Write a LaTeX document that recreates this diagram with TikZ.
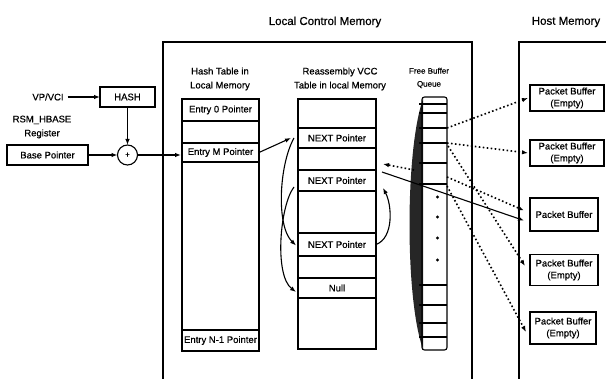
\documentclass[tikz,border=0pt]{standalone}
\usepackage{fontspec}
\setmainfont{Liberation Sans}[FakeBold=0.6]
\usetikzlibrary{arrows.meta,calc}
\begin{document}
\begin{tikzpicture}[x=1pt,y=-1pt,
  every node/.style={inner sep=0pt,outer sep=0pt},
  lbl/.style={font=\fontsize{9.5}{14}\selectfont},
  ttl/.style={font=\fontsize{11.5}{14}\selectfont},
  cell/.style={draw,line width=1.1pt,lbl},
  arr/.style={line width=1.1pt,-{Latex[length=6pt,width=4.5pt]}},
  darr/.style={line width=1.6pt,dash pattern=on 1.6pt off 2.4pt,-{Latex[length=6pt,width=4.5pt]}},
  wall/.style={line width=1.1pt}]
\useasboundingbox (0,0) rectangle (606,379);
% titles
\node[ttl] (tlcm) at (325,22) {Local Control Memory};
\node[ttl] (thm) at (566,22) {Host Memory};
% memory walls
\draw[wall] (163,379) -- (163,42) -- (472,42) -- (472,379);
\draw[wall] (519,379) -- (519,42) -- (606,42);
% headers
\node[lbl,align=center] (hhash) at (220,79) {Hash Table in\\Local Memory};
\node[lbl,align=center] (hreas) at (340,79) {Reassembly VCC\\Table in local Memory};
\node[font=\fontsize{8}{13}\selectfont,align=center] (hfree) at (429,78) {Free Buffer\\Queue};
% left inputs
\node[lbl] (vp) at (48,97) {VP/VCI};
\node[cell,minimum width=55pt,minimum height=20pt] (hash) at (127.5,97) {HASH};
\node[lbl,align=center] (rsm) at (42,127) {RSM\_HBASE\\Register};
\node[cell,minimum width=81pt,minimum height=20pt] (base) at (47.5,155) {Base Pointer};
\node[draw,circle,line width=1.1pt,minimum size=20pt,font=\fontsize{8}{8}\selectfont] (plus) at (127.5,155) {+};
\draw[arr] (vp.east) ++(4pt,0) -- (hash.west);
\draw[arr] (hash.south) -- (plus.north);
\draw[arr] (base.east) -- (plus.west);
% hash table
\node[cell,minimum width=77pt,minimum height=22pt] (h0) at (220.5,110) {Entry 0 Pointer};
\node[cell,minimum width=77pt,minimum height=22pt] (h1) at (220.5,132) {};
\node[cell,minimum width=77pt,minimum height=19pt] (hM) at (220.5,152.5) {Entry M Pointer};
\node[cell,minimum width=77pt,minimum height=168pt] (hg) at (220.5,246) {};
\node[cell,minimum width=77pt,minimum height=21pt] (hN) at (220.5,340.5) {Entry N-1 Pointer};
\draw[arr] (plus.east) -- ([xshift=-1pt]hM.west |- plus);
% reassembly table
\node[cell,minimum width=78pt,minimum height=29pt] (r0) at (337,113.5) {};
\node[cell,minimum width=78pt,minimum height=20pt] (n1) at (337,138) {NEXT Pointer};
\node[cell,minimum width=78pt,minimum height=22pt] (r2) at (337,159) {};
\node[cell,minimum width=78pt,minimum height=21pt] (n2) at (337,180.5) {NEXT Pointer};
\node[cell,minimum width=78pt,minimum height=42pt] (r4) at (337,212) {};
\node[cell,minimum width=78pt,minimum height=23pt] (n3) at (337,244.5) {NEXT Pointer};
\node[cell,minimum width=78pt,minimum height=22pt] (r6) at (337,267) {};
\node[cell,minimum width=78pt,minimum height=20pt] (nul) at (337,288) {Null};
\node[cell,minimum width=78pt,minimum height=51pt] (r8) at (337,323.5) {};
% pointer links
\draw[arr] (hM.east) -- ([xshift=-7pt]n1.west);
\draw[arr] ([xshift=-4pt]n1.west) .. controls (279,165) and (276,226) .. ([xshift=-2pt,yshift=-1pt]n3.west);
\draw[arr] ([xshift=-4pt,yshift=4pt]n2.south west) .. controls (280,205) and (274,275) .. ([xshift=-2pt,yshift=-4pt]nul.west);
\draw[arr] (n3.east) .. controls (394,238) and (392,205) .. ([xshift=7pt,yshift=3pt]n2.south east);
% free buffer queue
\fill[black!85] (423,99) .. controls (405,150) and (405,300) .. (423,349) -- cycle;
\node[draw,line width=1.1pt,rounded corners=2.5pt,minimum width=25pt,minimum height=253pt] (fbq) at (434.5,223.5) {};
\foreach \yy in {104,113,128,143,163,184,285,305,323,337}
  \draw[line width=1.1pt] (419,\yy) -- (447,\yy);
\foreach \yy in {197,217,238,260}
  \fill (437.5,\yy) circle (1.6pt);
% host packet buffers
\node[cell,minimum width=74pt,minimum height=26pt,align=center,font=\fontsize{9.5}{12}\selectfont] (pb1) at (567,98) {Packet Buffer\\(Empty)};
\node[cell,minimum width=74pt,minimum height=26pt,align=center,font=\fontsize{9.5}{12}\selectfont] (pb2) at (567,153) {Packet Buffer\\(Empty)};
\node[cell,minimum width=68pt,minimum height=33pt] (pb3) at (564,214.5) {Packet Buffer};
\node[cell,minimum width=68pt,minimum height=31pt,align=center,font=\fontsize{9.5}{12}\selectfont] (pb4) at (564,270) {Packet Buffer\\(Empty)};
\node[cell,minimum width=66pt,minimum height=32pt,align=center,font=\fontsize{9.5}{12}\selectfont] (pb5) at (563,328) {Packet Buffer\\(Empty)};
% free buffer links
\coordinate (qa) at (447,128);
\coordinate (qb) at (447,143);
\coordinate (qc) at (448,146);
\coordinate (qd) at (447,177);
\coordinate (qe) at (447,186);
\coordinate (qf) at (414,170);
\draw[darr] (qa) -- ([xshift=-2pt]pb1.west);
\draw[darr] (qb) -- ([xshift=-2pt]pb2.west);
\draw[darr] (qc) -- ([xshift=-5pt,yshift=4pt]pb4.west);
\draw[darr] (qd) -- ([xshift=-6pt,yshift=4pt]pb3.west);
\draw[darr] (qe) -- ([xshift=-4pt,yshift=-4pt]pb5.west);
\draw[darr] (qf) -- ([xshift=7pt,yshift=6pt]n2.north east);
\draw[arr] ([xshift=6pt,yshift=8.5pt]n2.east) -- ([xshift=-6pt,yshift=-6pt]pb3.west);
\end{tikzpicture}
\end{document}
